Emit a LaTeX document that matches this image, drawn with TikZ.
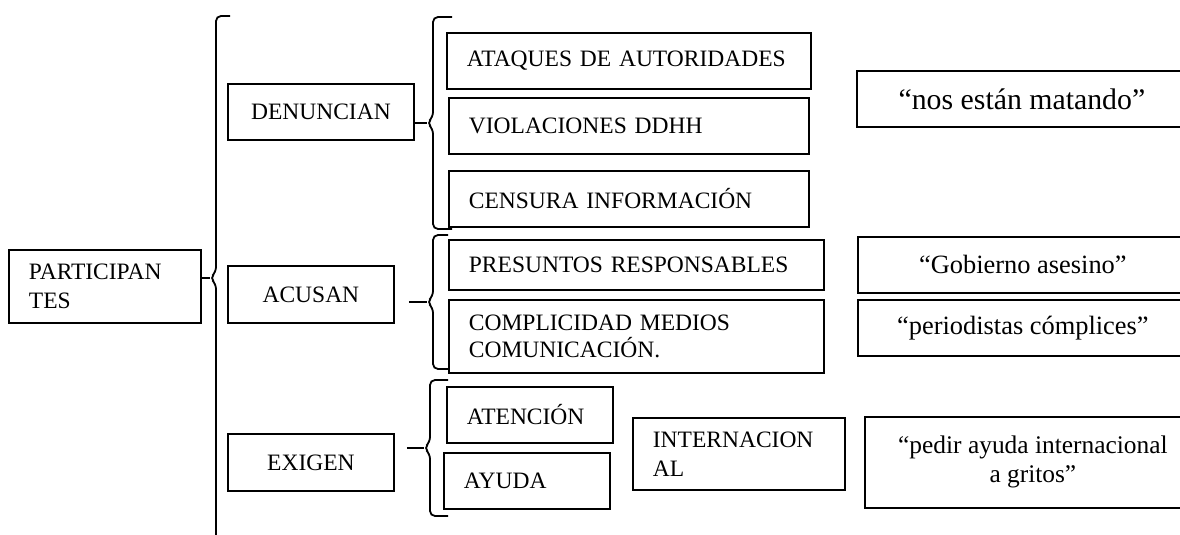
\documentclass[tikz,border=0pt]{standalone}
\usepackage{fontspec}
\setmainfont{Liberation Serif}

\tikzset{
    pics/llave/.style 2 args={code={
        \draw[line width=0.9pt, rounded corners=2.5pt] (6+#2,-#1) -- (6,-#1) -- (6,-6) -- (0,0) -- (6,6) -- (6,#1) -- (6+#2,#1);
    }}
}

\begin{document}
\begin{tikzpicture}
        [
            x=0.5pt, y=-0.5pt,
            caja/.style = {draw, black, line width=0.9pt, anchor=north west, inner ysep=0pt, font=\fontsize{11.75}{14.5}\selectfont},
            centro/.style 2 args = {caja, minimum width=#1, minimum height=#2, align=center},
            izq/.style 2 args = {caja, text width=#1, minimum height=#2, inner xsep=10pt, align=left},
            cita/.style = {font=\fontsize{#1}{14.5}\selectfont},
            conector/.style = {draw, black, line width=0.9pt}
        ]%
        \useasboundingbox (0,0) rectangle (1180,535);
        \node[izq={76pt}{36.5pt}] (participantes) at (8,249) {PARTICIPAN\\TES};
        \node[centro={93pt}{28pt}] (denuncian) at (227,83) {DENUNCIAN};
        \node[centro={83pt}{28.5pt}] (acusan) at (227,265) {ACUSAN};
        \node[centro={83pt}{28.5pt}] (exigen) at (227,433) {EXIGEN};
        \node[izq={162pt}{28pt}] (ataques) at (446,32) {ATAQUES DE AUTORIDADES};
        \node[izq={160pt}{28pt}] (violaciones) at (448,97) {VIOLACIONES DDHH};
        \node[izq={160pt}{28pt}] (censura) at (448,170) {CENSURA INFORMACIÓN};
        \node[izq={167.5pt}{25pt}] (presuntos) at (448,239) {PRESUNTOS RESPONSABLES};
        \node[izq={167.5pt}{36.5pt}, font=\fontsize{11.75}{13.5}\selectfont] (complicidad) at (448,299) {COMPLICIDAD MEDIOS\\COMUNICACIÓN.};
        \node[izq={63pt}{28pt}] (atencion) at (446,386) {ATENCIÓN};
        \node[izq={63pt}{28pt}] (ayuda) at (443,452) {AYUDA};
        \node[izq={86pt}{36pt}] (internacional) at (632,417) {INTERNACION\\AL};
        \node[centro={165pt}{28pt}, cita=14.9] (matando) at (856,70) {“nos están matando”};
        \node[centro={165pt}{28pt}, cita=13.2] (asesino) at (857,236) {“Gobierno asesino”};
        \node[centro={165pt}{28pt}, cita=13.2] (complices) at (857,299) {“periodistas cómplices”};
        \node[centro={168pt}{45.5pt}, cita=12.7] (gritos) at (864,416) {“pedir ayuda internacional\\a gritos”};
        \coordinate (puntaP) at (210,278);
        \coordinate (puntaD) at (427,123);
        \coordinate (puntaA) at (427,302);
        \coordinate (puntaE) at (424,448);
        \pic at (puntaP) {llave={262}{14}};
        \pic at (puntaD) {llave={106}{19}};
        \pic at (puntaA) {llave={67}{15}};
        \pic at (puntaE) {llave={68}{18}};
        \draw[conector] (puntaP -| participantes.east) -- (puntaP);
        \draw[conector] (puntaD -| denuncian.east) -- (puntaD);
        \draw[conector, shorten <=7pt] (puntaA -| acusan.east) -- (puntaA);
        \draw[conector, shorten <=6pt] (puntaE -| exigen.east) -- (puntaE);
        \end{tikzpicture}
\end{document}
